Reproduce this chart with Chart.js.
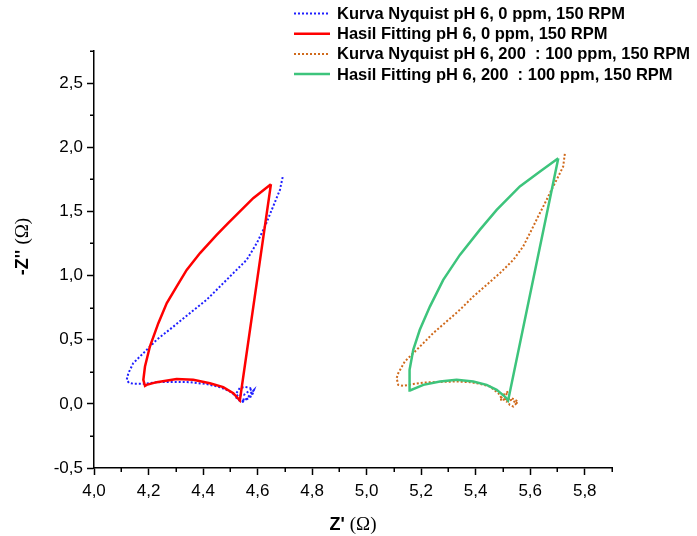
<!DOCTYPE html>
<html>
<head>
<meta charset="utf-8">
<script src="https://cdn.jsdelivr.net/npm/chart.js@4.4.1/dist/chart.umd.min.js"></script>
<style>
    html, body { margin: 0; padding: 0; background: #fff; }
    #wrap { width: 697px; height: 536px; }
</style>
</head>
<body>
<div id="wrap"><canvas id="chart-js" width="697" height="536"></canvas></div>
<script>
// Kurva Nyquist pH 6, 0 ppm, 150 RPM  (Z' / -Z'')
const nyq0X = [4.692, 4.682, 4.657, 4.627, 4.597, 4.560, 4.511, 4.462, 4.413, 4.352, 4.291, 4.230, 4.181, 4.144, 4.126, 4.120, 4.128, 4.144,
    4.187, 4.230, 4.291, 4.352, 4.413, 4.462, 4.499, 4.523,
    4.524, 4.543, 4.561, 4.576, 4.587, 4.579, 4.557, 4.535, 4.521, 4.535, 4.554, 4.572, 4.587, 4.568, 4.546, 4.528, 4.517, 4.550, 4.579];
const nyq0Y = [1.767, 1.668, 1.538, 1.382, 1.252, 1.122, 1.019, 0.914, 0.811, 0.707, 0.602, 0.499, 0.395, 0.317, 0.239, 0.187, 0.164, 0.157,
    0.156, 0.169, 0.171, 0.169, 0.154, 0.130, 0.096, 0.057,
    0.047, 0.023, 0.039, 0.086, 0.109, 0.062, 0.031, 0.039, 0.078, 0.125, 0.132, 0.125, 0.094, 0.055, 0.016, 0.031, 0.062, 0.070, 0.117];

// Hasil Fitting pH 6, 0 ppm, 150 RPM
const fit0X = [4.649, 4.535, 4.511, 4.474, 4.425, 4.364, 4.303, 4.230, 4.193, 4.187, 4.181, 4.187, 4.205, 4.236, 4.267, 4.303, 4.340, 4.389, 4.450, 4.492, 4.584, 4.649];
const fit0Y = [1.712, 0.026, 0.083, 0.130, 0.161, 0.187, 0.193, 0.169, 0.148, 0.140, 0.187, 0.291, 0.447, 0.629, 0.785, 0.914, 1.044, 1.175, 1.317, 1.408, 1.603, 1.712];

// Kurva Nyquist pH 6, 200 : 100 ppm, 150 RPM
const nyq200X = [5.727, 5.721, 5.703, 5.678, 5.654, 5.629, 5.605, 5.574, 5.538, 5.489, 5.440, 5.391, 5.342, 5.293, 5.244, 5.208, 5.171, 5.140, 5.116, 5.110,
    5.116, 5.134, 5.171, 5.208, 5.269, 5.330, 5.379, 5.415, 5.452,
    5.483, 5.495, 5.513, 5.532, 5.550, 5.538, 5.525, 5.507, 5.519, 5.501, 5.489, 5.532, 5.556, 5.543];
const nyq200Y = [1.949, 1.850, 1.772, 1.668, 1.564, 1.460, 1.356, 1.226, 1.122, 1.019, 0.927, 0.836, 0.733, 0.641, 0.551, 0.473, 0.395, 0.330, 0.239, 0.200,
    0.148, 0.140, 0.154, 0.166, 0.171, 0.174, 0.169, 0.156, 0.135,
    0.083, 0.044, 0.018, 0.031, 0.005, -0.021, -0.008, 0.057, 0.096, 0.070, 0.031, 0.044, 0.018, -0.008];

// Hasil Fitting pH 6, 200 : 100 ppm, 150 RPM
const fit200X = [5.703, 5.519, 5.507, 5.477, 5.440, 5.391, 5.330, 5.269, 5.208, 5.159, 5.156, 5.159, 5.171, 5.195, 5.232, 5.281, 5.342, 5.415, 5.477, 5.562, 5.636, 5.703];
const fit200Y = [1.915, 0.026, 0.057, 0.109, 0.148, 0.174, 0.187, 0.174, 0.148, 0.104, 0.148, 0.265, 0.421, 0.577, 0.758, 0.966, 1.161, 1.356, 1.512, 1.694, 1.811, 1.915];

const seriesLabels = [
    'Kurva Nyquist pH 6, 0 ppm, 150 RPM',
    'Hasil Fitting pH 6, 0 ppm, 150 RPM',
    'Kurva Nyquist pH 6, 200  : 100 ppm, 150 RPM',
    'Hasil Fitting pH 6, 200  : 100 ppm, 150 RPM'
];
const xTitleMain = "Z' ", yTitleMain = "-Z'' ", unitText = '(\u03A9)';

const SANS = "'Liberation Sans', Arial, sans-serif";
const SERIF = "'Liberation Serif', 'Times New Roman', serif";

const toPoints = (xs, ys) => xs.map((x, i) => ({ x: x, y: ys[i] }));
const fmt = v => (Math.round(v * 10) / 10).toFixed(1).replace('.', ',');

const dotted = [2, 2];

const data = {
    datasets: [
        { label: seriesLabels[0], data: toPoints(nyq0X, nyq0Y), borderColor: '#1f1fff', borderWidth: 2, borderDash: dotted, order: 4 },
        { label: seriesLabels[1], data: toPoints(fit0X, fit0Y), borderColor: '#ff0000', borderWidth: 2.5, order: 3 },
        { label: seriesLabels[2], data: toPoints(nyq200X, nyq200Y), borderColor: '#d06a1c', borderWidth: 2, borderDash: dotted, order: 2 },
        { label: seriesLabels[3], data: toPoints(fit200X, fit200Y), borderColor: '#3dc47c', borderWidth: 2.5, order: 1 },
    ]
};
data.datasets.forEach(d => {
    d.showLine = true;
    d.pointRadius = 0;
    d.pointHoverRadius = 0;
    d.tension = 0;
    d.fill = false;
});

// minor ticks, axis titles and legend drawn on top
const decorPlugin = {
    id: 'decor',
    afterDraw(chart) {
        const { ctx, chartArea: a, scales } = chart;
        const sx = scales.x, sy = scales.y;
        ctx.save();
        ctx.strokeStyle = '#000';
        ctx.lineWidth = 1.5;
        ctx.beginPath();
        const xs = sx.options.ticks.stepSize, ys = sy.options.ticks.stepSize;
        sx.ticks.forEach(t => {
            const v = t.value + xs / 2;
            if (v > sx.max + 1e-9) return;
            const p = Math.round(sx.getPixelForValue(v)) + 0.25;
            ctx.moveTo(p, a.bottom);
            ctx.lineTo(p, a.bottom + 4);
        });
        sy.ticks.forEach(t => {
            const v = t.value + ys / 2;
            if (v > sy.max + 1e-9) return;
            const p = Math.round(sy.getPixelForValue(v)) + 0.25;
            ctx.moveTo(a.left, p);
            ctx.lineTo(a.left - 4, p);
        });
        ctx.stroke();

        // axis titles
        ctx.fillStyle = '#000';
        ctx.textBaseline = 'alphabetic';
        const boldFont = 'bold 18px ' + SANS, unitFont = '19px ' + SERIF;
        ctx.font = boldFont;
        const w1 = ctx.measureText(xTitleMain).width;
        ctx.font = unitFont;
        const w2 = ctx.measureText(unitText).width;
        let x0 = (a.left + a.right) / 2 - (w1 + w2) / 2;
        ctx.textAlign = 'left';
        ctx.font = boldFont;
        ctx.fillText(xTitleMain, x0, 530);
        ctx.font = unitFont;
        ctx.fillText(unitText, x0 + w1, 530);

        ctx.font = boldFont;
        const v1 = ctx.measureText(yTitleMain).width;
        ctx.font = unitFont;
        const v2 = ctx.measureText(unitText).width;
        ctx.save();
        ctx.translate(28, (a.top + a.bottom) / 2 - 13);
        ctx.rotate(-Math.PI / 2);
        const y0 = -(v1 + v2) / 2;
        ctx.font = boldFont;
        ctx.fillText(yTitleMain, y0, 0);
        ctx.font = unitFont;
        ctx.fillText(unitText, y0 + v1, 0);
        ctx.restore();

        // legend
        ctx.font = 'bold 16.5px ' + SANS;
        ctx.textBaseline = 'middle';
        chart.data.datasets.forEach((d, i) => {
            const yy = 13.5 + i * 20.2;
            ctx.beginPath();
            ctx.strokeStyle = d.borderColor;
            ctx.lineWidth = d.borderWidth;
            ctx.setLineDash(d.borderDash || []);
            ctx.moveTo(294, yy);
            ctx.lineTo(330, yy);
            ctx.stroke();
            ctx.setLineDash([]);
            ctx.fillStyle = '#000';
            ctx.fillText(d.label, 337, yy + 1);
        });
        ctx.restore();
    }
};

const tickFont = { family: SANS, size: 17 };

const config = {
    type: 'scatter',
    data: data,
    options: {
        responsive: false,
        animation: false,
        devicePixelRatio: 1,
        layout: { padding: { top: 51, right: 85, bottom: 0, left: 0 } },
        plugins: {
            legend: { display: false },
            tooltip: { enabled: false },
        },
        scales: {
            x: {
                type: 'linear',
                min: 4.0,
                max: 5.9,
                afterFit: s => { s.height = 68; },
                border: { display: true, color: '#000', width: 1.5 },
                grid: { drawOnChartArea: false, drawTicks: true, tickLength: 7, tickWidth: 1.5, tickColor: '#000' },
                ticks: { stepSize: 0.2, includeBounds: false, autoSkip: false, maxRotation: 0, padding: 6, color: '#000', font: tickFont, callback: v => fmt(v) }
            },
            y: {
                type: 'linear',
                min: -0.5,
                max: 2.75,
                afterFit: s => { s.width = 94; },
                border: { display: true, color: '#000', width: 1.5 },
                grid: { drawOnChartArea: false, drawTicks: true, tickLength: 7, tickWidth: 1.5, tickColor: '#000' },
                ticks: { stepSize: 0.5, includeBounds: false, autoSkip: false, padding: 4, color: '#000', font: tickFont, callback: v => fmt(v) }
            }
        }
    },
    plugins: [decorPlugin]
};

const chart = new Chart(document.getElementById('chart-js'), config);
</script>
</body>
</html>
